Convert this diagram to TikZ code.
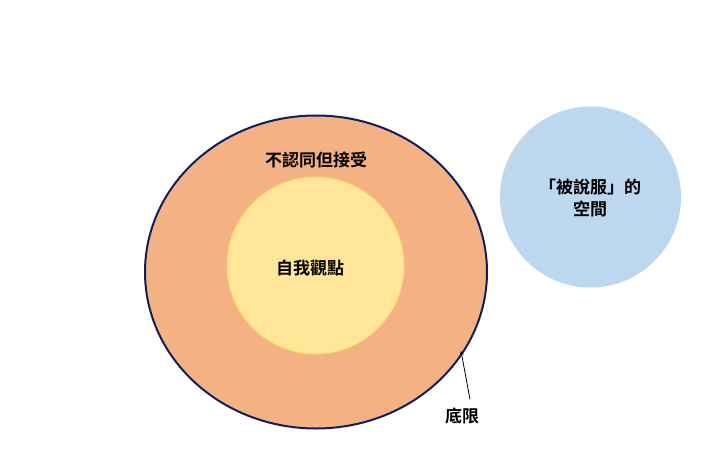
\documentclass[tikz,border=0pt]{standalone}
\usepackage{fontspec}
\usetikzlibrary{shapes.geometric}
\newfontfamily\cjk{Noto Sans CJK TC}[BoldFont={Noto Sans CJK TC Bold}]
\definecolor{orng}{HTML}{F4B183}
\definecolor{navy}{HTML}{0F1F5C}
\definecolor{yel}{HTML}{FFE699}
\definecolor{yelb}{HTML}{FFD966}
\definecolor{blu}{HTML}{BDD7EE}
\tikzset{lbl/.style={font=\cjk\bfseries\fontsize{17}{22}\selectfont,text=black,align=center}}
\begin{document}
\begin{tikzpicture}[x=1pt,y=-1pt]
\useasboundingbox[fill=white] (0,0) rectangle (716,461);
\node[draw=navy,line width=2pt,fill=orng,ellipse,minimum width=342pt,minimum height=313pt,inner sep=0pt] (outer) at (316,272) {};
\node[draw=yelb,line width=1pt,fill=yel,circle,minimum size=177pt,inner sep=0pt] (inner) at (315.5,265.5) {};
\node[fill=blu,circle,minimum size=181pt,inner sep=0pt] (blue) at (590.5,197) {};
\node[lbl] (t1) at (316,160) {不認同但接受};
\node[lbl] (t2) at (310,268) {自我觀點};
\node[lbl] (t3) at (590,198) {「被說服」的\\空間};
\node[lbl] (t4) at (462,416) {底限};
\coordinate (edge) at (461,351);
\draw[-stealth,line width=0.8pt] (t4.north)++(8,-5) -- (edge);
\end{tikzpicture}
\end{document}
